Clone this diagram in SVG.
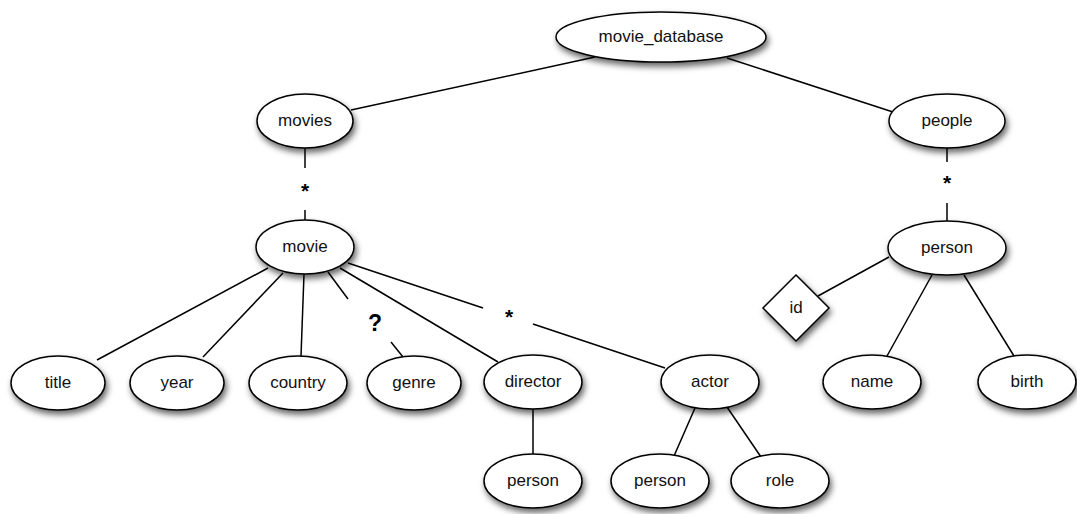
<svg xmlns="http://www.w3.org/2000/svg" width="1077" height="514" viewBox="0 0 1077 514">
<defs>
<filter id="sh" x="-20%" y="-20%" width="150%" height="160%">
<feDropShadow dx="2" dy="4" stdDeviation="3" flood-color="#000" flood-opacity="0.6"/>
</filter>
<style>
.n{fill:#fff;stroke:#000;stroke-width:1.5;filter:url(#sh)}
.t{font-family:"Liberation Sans",Arial,sans-serif;font-size:17px;fill:#111;text-anchor:middle;dominant-baseline:central}
.c line{stroke:#000;stroke-width:1.5}
.m{font-family:"Liberation Sans",Arial,sans-serif;font-weight:bold;fill:#000;text-anchor:middle;dominant-baseline:central}
</style>
</defs>
<rect width="1077" height="514" fill="#fff"/>
<g class="c" id="connectors">
<line x1="595" y1="57" x2="351" y2="110"/>
<line x1="727" y1="58" x2="893" y2="112"/>
<line x1="305" y1="147" x2="305" y2="168"/>
<line x1="305" y1="210" x2="305" y2="220"/>
<line x1="947" y1="147" x2="947" y2="162"/>
<line x1="947" y1="203" x2="947" y2="222"/>
<line x1="268" y1="268" x2="97" y2="360"/>
<line x1="283" y1="273" x2="203" y2="357"/>
<line x1="304" y1="274" x2="301" y2="356"/>
<line x1="328" y1="272" x2="348" y2="299"/>
<line x1="391" y1="342" x2="403" y2="357"/>
<line x1="340" y1="268" x2="498" y2="362"/>
<line x1="348" y1="263" x2="483" y2="308"/>
<line x1="533" y1="324" x2="665" y2="368"/>
<line x1="533" y1="409" x2="533" y2="454"/>
<line x1="695" y1="408" x2="674" y2="456"/>
<line x1="727" y1="407" x2="761" y2="457"/>
<line x1="889" y1="257" x2="818" y2="296"/>
<line x1="932" y1="275" x2="887" y2="356"/>
<line x1="964" y1="275" x2="1014" y2="356"/>
<text class="m" x="305" y="190" font-size="21">*</text>
<text class="m" x="947" y="182" font-size="21">*</text>
<text class="m" x="509" y="316" font-size="21">*</text>
<text class="m" x="375" y="323" font-size="23">?</text>
</g>
<g id="movie_database"><ellipse class="n" cx="661" cy="37" rx="105" ry="25"/><text class="t" x="661" y="36">movie_database</text></g>
<g id="movies"><ellipse class="n" cx="305" cy="121" rx="48" ry="27"/><text class="t" x="305" y="120">movies</text></g>
<g id="people"><ellipse class="n" cx="947" cy="121" rx="58" ry="27"/><text class="t" x="947" y="120">people</text></g>
<g id="movie"><ellipse class="n" cx="305" cy="247" rx="49" ry="27"/><text class="t" x="305" y="246">movie</text></g>
<g id="person_top"><ellipse class="n" cx="947" cy="248" rx="59" ry="27"/><text class="t" x="947" y="247">person</text></g>
<g id="title"><ellipse class="n" cx="58" cy="383" rx="47" ry="27"/><text class="t" x="58" y="382">title</text></g>
<g id="year"><ellipse class="n" cx="177" cy="383" rx="47" ry="27"/><text class="t" x="177" y="382">year</text></g>
<g id="country"><ellipse class="n" cx="298" cy="383" rx="49" ry="27"/><text class="t" x="298" y="382">country</text></g>
<g id="genre"><ellipse class="n" cx="414" cy="383" rx="47" ry="27"/><text class="t" x="414" y="382">genre</text></g>
<g id="director"><ellipse class="n" cx="533" cy="382" rx="49" ry="27"/><text class="t" x="533" y="381">director</text></g>
<g id="actor"><ellipse class="n" cx="710" cy="382" rx="49" ry="27"/><text class="t" x="710" y="381">actor</text></g>
<g id="director_person"><ellipse class="n" cx="533" cy="481" rx="49" ry="27"/><text class="t" x="533" y="480">person</text></g>
<g id="actor_person"><ellipse class="n" cx="660" cy="481" rx="49" ry="27"/><text class="t" x="660" y="480">person</text></g>
<g id="role"><ellipse class="n" cx="780" cy="481" rx="49" ry="27"/><text class="t" x="780" y="480">role</text></g>
<g id="id"><polygon class="n" points="796,275 829,308 796,341 763,308"/><text class="t" x="796" y="307">id</text></g>
<g id="name"><ellipse class="n" cx="872" cy="382" rx="49" ry="27"/><text class="t" x="872" y="381">name</text></g>
<g id="birth"><ellipse class="n" cx="1027" cy="382" rx="49" ry="27"/><text class="t" x="1027" y="381">birth</text></g>
</svg>
